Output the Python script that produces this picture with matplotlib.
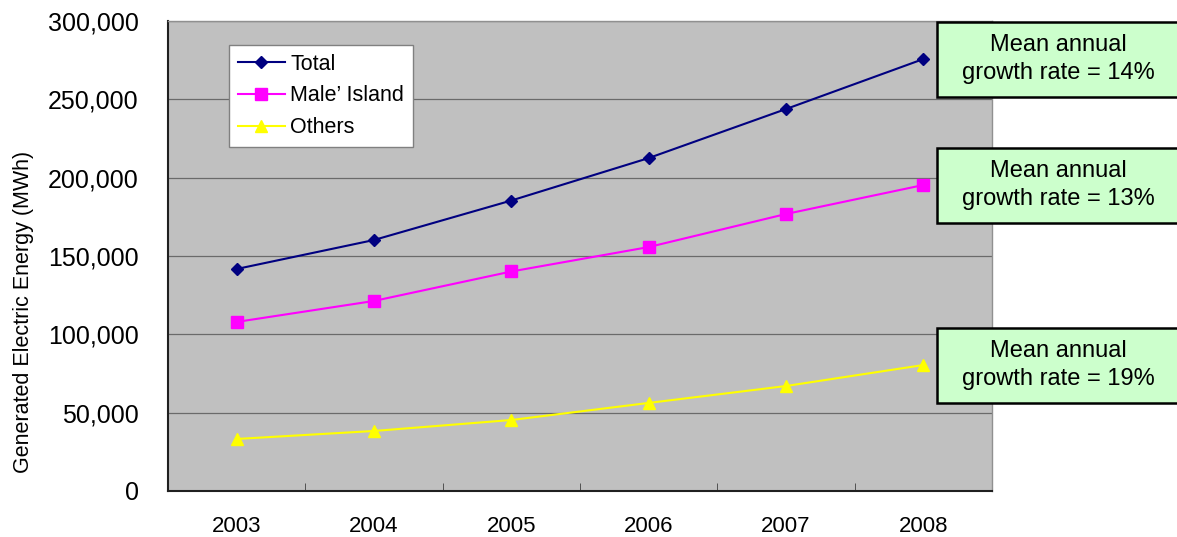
import numpy as np
from matplotlib import pyplot as plt
from matplotlib.patches import Rectangle
from matplotlib.ticker import FuncFormatter

years = ['2003', '2004', '2005', '2006', '2007', '2008']
total = [141700, 160200, 185400, 212500, 243800, 275700]
male_island = [107900, 121300, 140100, 155700, 176800, 195300]
others = [33200, 38300, 45300, 56200, 67000, 80400]
growth_labels = ['Mean annual\ngrowth rate = 14%',
                 'Mean annual\ngrowth rate = 13%',
                 'Mean annual\ngrowth rate = 19%']

plt.rcParams['font.family'] = ['Liberation Sans', 'DejaVu Sans']

fig = plt.figure(figsize=(11.77, 5.37), dpi=100)
ax = fig.add_axes([0.1427, 0.0857, 0.7001, 0.8752])
ax.set_facecolor('#C0C0C0')

x = np.arange(len(years))
ax.plot(x, total, color='#000080', lw=1.5, marker='D', ms=6, label='Total', zorder=3)
ax.plot(x, male_island, color='#FF00FF', lw=1.5, marker='s', ms=8.5, label='Male\u2019 Island', zorder=3)
ax.plot(x, others, color='#FFFF00', lw=1.5, marker='^', ms=9, label='Others', zorder=3)

ax.set_xlim(-0.5, len(years) - 0.5)
ax.set_ylim(0, 300000)
ax.set_yticks(np.arange(0, 300001, 50000))
ax.yaxis.set_major_formatter(FuncFormatter(lambda v, p: '{:,.0f}'.format(v)))
ax.yaxis.grid(True, color='#6a6a6a', lw=0.9)
ax.set_axisbelow(True)
ax.tick_params(axis='y', length=0, pad=21, labelsize=18)

ax.set_xticks(x)
ax.set_xticklabels(years, fontsize=16)
ax.set_xticks(x[:-1] + 0.5, minor=True)
ax.tick_params(axis='x', which='major', length=0, pad=18)
ax.tick_params(axis='x', which='minor', direction='in', length=6, color='#404040')

ax.set_ylabel('Generated Electric Energy (MWh)', fontsize=15.5)
ax.yaxis.set_label_coords(-0.162, 0.38)

for s in ['top', 'right']:
    ax.spines[s].set_color('#909090')
    ax.spines[s].set_linewidth(1.0)
for s in ['left', 'bottom']:
    ax.spines[s].set_color('#202020')
    ax.spines[s].set_linewidth(1.5)

leg = ax.legend(loc='upper left', bbox_to_anchor=(0.074, 0.949), borderaxespad=0,
                fontsize=15.5, fancybox=False, framealpha=1, edgecolor='#808080',
                handlelength=2.2, handletextpad=0.25, labelspacing=0.5, borderpad=0.4)
leg.get_frame().set_linewidth(1.0)

# growth rate boxes, anchored at the 2008 values
W, H = fig.bbox.width, fig.bbox.height
for v, txt in zip([total[-1], male_island[-1], others[-1]], growth_labels):
    yc = ax.transData.transform((0, v))[1]
    rect = Rectangle((937 / W, (yc - 37.5) / H), 243 / W, 75 / H,
                     transform=fig.transFigure, facecolor='#CCFFCC',
                     edgecolor='black', lw=1.8, clip_on=False)
    fig.patches.append(rect)
    fig.text(1058 / W, yc / H, txt, ha='center', va='center', fontsize=17,
             linespacing=1.4)

fig.savefig('out.png', dpi=100)
